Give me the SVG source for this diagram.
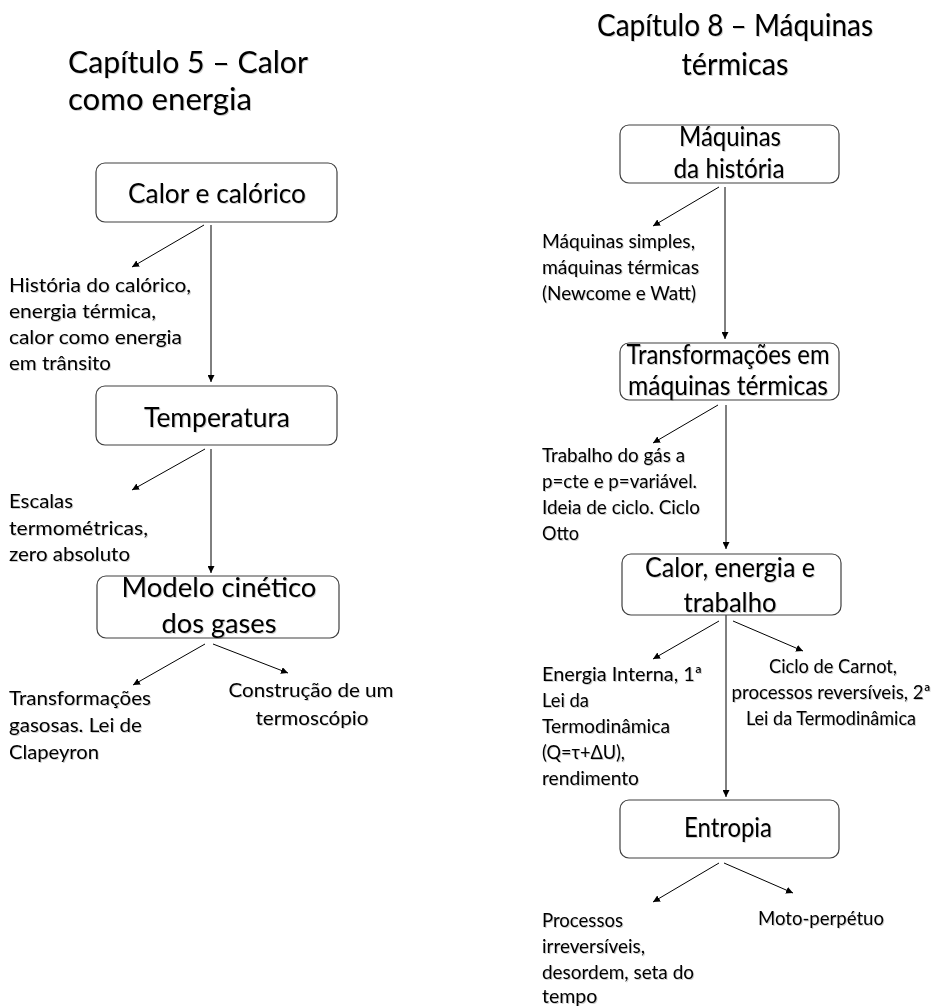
<svg xmlns="http://www.w3.org/2000/svg" width="938" height="1006" viewBox="0 0 938 1006">
<style>
text{font-family:Lato,"Open Sans","Liberation Sans",sans-serif;fill:#000;filter:url(#sh)}
.t{font-size:30px}
.b{font-size:26px;text-anchor:middle}
.l{font-size:19.5px}
.c{text-anchor:middle}
.n{fill:#fff;stroke:#404040;stroke-width:1.2}
#connectors line{stroke:#000;stroke-width:1;marker-end:url(#ah)}
</style>
<defs>
<marker id="ah" viewBox="0 0 10 10" refX="10" refY="5" markerWidth="7" markerHeight="7" markerUnits="userSpaceOnUse" orient="auto">
<path d="M0,0L10,5L0,10z" fill="#000"/>
</marker>
<filter id="sh" x="-5%" y="-20%" width="110%" height="140%">
<feDropShadow dx="1" dy="1" stdDeviation="0.5" flood-color="#000" flood-opacity="0.2"/>
</filter>
</defs>
<rect width="938" height="1006" fill="#fff"/>
<g id="title5">
<text class="t" x="68" y="73" textLength="240" lengthAdjust="spacingAndGlyphs">Capítulo 5 – Calor</text>
<text class="t" x="68" y="110" textLength="184" lengthAdjust="spacingAndGlyphs">como energia</text>
</g>
<g id="title8">
<text class="t c" x="735" y="36" textLength="276" lengthAdjust="spacingAndGlyphs">Capítulo 8 – Máquinas</text>
<text class="t c" x="735" y="75" textLength="107" lengthAdjust="spacingAndGlyphs">térmicas</text>
</g>
<g id="connectors">
<line x1="204" y1="225" x2="132" y2="267"/>
<line x1="211" y1="225" x2="211" y2="382"/>
<line x1="205" y1="449" x2="132" y2="490"/>
<line x1="211" y1="449" x2="211" y2="573"/>
<line x1="205" y1="644" x2="133" y2="685"/>
<line x1="213" y1="644" x2="288" y2="673"/>
<line x1="719" y1="187" x2="653" y2="226"/>
<line x1="725" y1="187" x2="725" y2="339"/>
<line x1="718" y1="405" x2="653" y2="443"/>
<line x1="726" y1="405" x2="726" y2="549"/>
<line x1="719" y1="621" x2="653" y2="659"/>
<line x1="733" y1="621" x2="803" y2="651"/>
<line x1="726" y1="615" x2="726" y2="797"/>
<line x1="719" y1="863" x2="653" y2="902"/>
<line x1="724" y1="863" x2="793" y2="893"/>
</g>
<g id="n-calor">
<rect class="n" x="96" y="163" width="241" height="59" rx="9"/>
<text class="b" x="217" y="203" textLength="178" lengthAdjust="spacingAndGlyphs">Calor e calórico</text>
</g>
<g id="l-historia">
<text class="l" x="9" y="292" textLength="182" lengthAdjust="spacingAndGlyphs">História do calórico,</text>
<text class="l" x="9" y="318" textLength="147" lengthAdjust="spacingAndGlyphs">energia térmica,</text>
<text class="l" x="9" y="344" textLength="173" lengthAdjust="spacingAndGlyphs">calor como energia</text>
<text class="l" x="9" y="370" textLength="102" lengthAdjust="spacingAndGlyphs">em trânsito</text>
</g>
<g id="n-temp">
<rect class="n" x="96" y="386" width="241" height="59" rx="9"/>
<text class="b" x="217" y="427" textLength="146" lengthAdjust="spacingAndGlyphs">Temperatura</text>
</g>
<g id="l-escalas">
<text class="l" x="9" y="508" textLength="64" lengthAdjust="spacingAndGlyphs">Escalas</text>
<text class="l" x="9" y="535" textLength="139" lengthAdjust="spacingAndGlyphs">termométricas,</text>
<text class="l" x="9" y="561" textLength="121" lengthAdjust="spacingAndGlyphs">zero absoluto</text>
</g>
<g id="n-modelo">
<rect class="n" x="97" y="576" width="242" height="62" rx="9"/>
<text class="b" x="219" y="597" style="font-size:27px" textLength="195" lengthAdjust="spacingAndGlyphs">Modelo cinético</text>
<text class="b" x="219" y="633" style="font-size:27px" textLength="115" lengthAdjust="spacingAndGlyphs">dos gases</text>
</g>
<g id="l-transf">
<text class="l" x="9" y="705" textLength="142" lengthAdjust="spacingAndGlyphs">Transformações</text>
<text class="l" x="9" y="732" textLength="133" lengthAdjust="spacingAndGlyphs">gasosas. Lei de</text>
<text class="l" x="9" y="759" textLength="90" lengthAdjust="spacingAndGlyphs">Clapeyron</text>
</g>
<g id="l-constr">
<text class="l c" x="311" y="697" textLength="165" lengthAdjust="spacingAndGlyphs">Construção de um</text>
<text class="l c" x="312" y="725" textLength="113" lengthAdjust="spacingAndGlyphs">termoscópio</text>
</g>
<g id="n-maquinas">
<rect class="n" x="620" y="125" width="219" height="58" rx="9"/>
<text class="b" x="730" y="146" textLength="102" lengthAdjust="spacingAndGlyphs">Máquinas</text>
<text class="b" x="729" y="178" textLength="111" lengthAdjust="spacingAndGlyphs">da história</text>
</g>
<g id="l-simples">
<text class="l" x="542" y="248" textLength="153" lengthAdjust="spacingAndGlyphs">Máquinas simples,</text>
<text class="l" x="542" y="274" textLength="157" lengthAdjust="spacingAndGlyphs">máquinas térmicas</text>
<text class="l" x="542" y="300" textLength="154" lengthAdjust="spacingAndGlyphs">(Newcome e Watt)</text>
</g>
<g id="n-transf">
<rect class="n" x="620" y="343" width="219" height="57" rx="9"/>
<text class="b" x="728" y="364" textLength="203" lengthAdjust="spacingAndGlyphs">Transformações em</text>
<text class="b" x="728" y="395" textLength="200" lengthAdjust="spacingAndGlyphs">máquinas térmicas</text>
</g>
<g id="l-trabalho">
<text class="l" x="542" y="462" textLength="143" lengthAdjust="spacingAndGlyphs">Trabalho do gás a</text>
<text class="l" x="542" y="488" textLength="155" lengthAdjust="spacingAndGlyphs">p=cte e p=variável.</text>
<text class="l" x="542" y="514" textLength="158" lengthAdjust="spacingAndGlyphs">Ideia de ciclo. Ciclo</text>
<text class="l" x="542" y="540" textLength="37" lengthAdjust="spacingAndGlyphs">Otto</text>
</g>
<g id="n-calor2">
<rect class="n" x="622" y="554" width="219" height="61" rx="9"/>
<text class="b" x="730" y="577" textLength="170" lengthAdjust="spacingAndGlyphs">Calor, energia e</text>
<text class="b" x="730" y="612" textLength="93" lengthAdjust="spacingAndGlyphs">trabalho</text>
</g>
<g id="l-energia">
<text class="l" x="542" y="681" textLength="160" lengthAdjust="spacingAndGlyphs">Energia Interna, 1ª</text>
<text class="l" x="542" y="707" textLength="47" lengthAdjust="spacingAndGlyphs">Lei da</text>
<text class="l" x="542" y="733" textLength="128" lengthAdjust="spacingAndGlyphs">Termodinâmica</text>
<text class="l" x="542" y="759" textLength="83" lengthAdjust="spacingAndGlyphs">(Q=τ+ΔU),</text>
<text class="l" x="542" y="785" textLength="97" lengthAdjust="spacingAndGlyphs">rendimento</text>
</g>
<g id="l-carnot">
<text class="l c" x="833" y="673" textLength="128" lengthAdjust="spacingAndGlyphs">Ciclo de Carnot,</text>
<text class="l c" x="831" y="699" textLength="199" lengthAdjust="spacingAndGlyphs">processos reversíveis, 2ª</text>
<text class="l c" x="831" y="725" textLength="170" lengthAdjust="spacingAndGlyphs">Lei da Termodinâmica</text>
</g>
<g id="n-entropia">
<rect class="n" x="620" y="800" width="219" height="58" rx="9"/>
<text class="b" x="728" y="837" textLength="88" lengthAdjust="spacingAndGlyphs">Entropia</text>
</g>
<g id="l-processos">
<text class="l" x="542" y="927" textLength="81" lengthAdjust="spacingAndGlyphs">Processos</text>
<text class="l" x="542" y="953" textLength="103" lengthAdjust="spacingAndGlyphs">irreversíveis,</text>
<text class="l" x="542" y="979" textLength="152" lengthAdjust="spacingAndGlyphs">desordem, seta do</text>
<text class="l" x="542" y="1003">tempo</text>
</g>
<g id="l-moto">
<text class="l" x="758" y="925" textLength="126" lengthAdjust="spacingAndGlyphs">Moto-perpétuo</text>
</g>
</svg>
